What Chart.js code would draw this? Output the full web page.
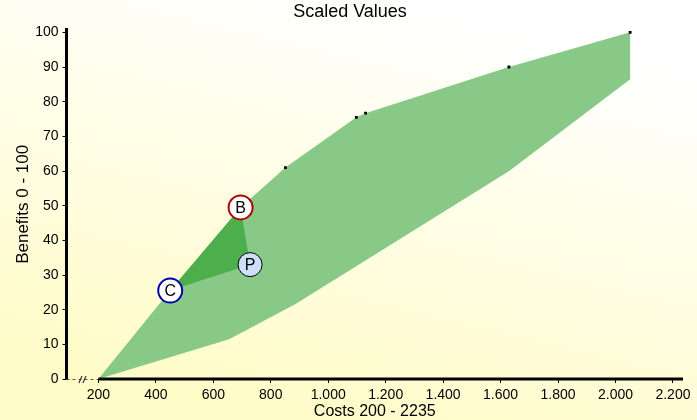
<!DOCTYPE html>
<html>
<head>
<meta charset="utf-8">
<script src="https://cdn.jsdelivr.net/npm/chart.js@4/dist/chart.umd.min.js"></script>
<style>
  html, body { margin: 0; padding: 0; background: #fff; }
  #wrap { width: 697px; height: 420px; }
</style>
</head>
<body>
<div id="wrap"><canvas id="chart" width="697" height="420"></canvas></div>
<script>
// outline of the cost/benefit area, upper edge then lower edge
const upperX = [200, 450, 695, 851, 1098, 1130, 1629, 2051];
const upperY = [0, 25.5, 49.5, 61, 75.5, 76.7, 90, 100];
const lowerX = [2051, 1630, 885, 655, 200];
const lowerY = [86.5, 60, 21.6, 11.5, 0];

// small black markers on the upper edge
const markX = [851, 1098, 1130, 1629, 2051];
const markY = [61, 75.5, 76.7, 90, 100];

// labelled points
const pointNames = ["C", "B", "P"];
const pointX = [450, 695, 728];
const pointY = [25.5, 49.5, 33];

const xTicks = [200, 400, 600, 800, 1000, 1200, 1400, 1600, 1800, 2000, 2200];
const yTicks = [0, 10, 20, 30, 40, 50, 60, 70, 80, 90, 100];

const font = "'Liberation Sans', Arial, sans-serif";

const outline = upperX.map((x, i) => ({ x, y: upperY[i] }))
  .concat(lowerX.map((x, i) => ({ x, y: lowerY[i] })));
const triangle = [0, 1, 2, 0].map((i) => ({ x: pointX[i], y: pointY[i] }));

const background = {
  id: "background",
  beforeDraw(chart) {
    const c = chart.ctx;
    const g = c.createLinearGradient(400, 0, 300, chart.height);
    g.addColorStop(0, "#ffffff");
    g.addColorStop(1, "#fffcc8");
    c.save();
    c.fillStyle = g;
    c.fillRect(0, 0, chart.width, chart.height);
    c.restore();
  },
};

// x axis: dashed before the break, solid from 200 on; letters in the circles
const extras = {
  id: "extras",
  afterDraw(chart) {
    const c = chart.ctx;
    const xs = chart.scales.x;
    const y = chart.scales.y.getPixelForValue(0);
    const x200 = xs.getPixelForValue(200);
    c.save();
    c.strokeStyle = "#555";
    c.lineWidth = 1;
    c.setLineDash([3, 3]);
    c.beginPath();
    c.moveTo(xs.left, y + 0.5);
    c.lineTo(x200, y + 0.5);
    c.stroke();
    c.restore();

    c.save();
    c.strokeStyle = "#000";
    c.lineWidth = 3;
    c.beginPath();
    c.moveTo(x200, y);
    c.lineTo(xs.right, y);
    c.stroke();
    c.restore();

    // break mark
    c.save();
    c.lineWidth = 1.2;
    c.strokeStyle = "#333";
    const bx = (xs.left + x200) / 2;
    [-2, 2].forEach((d) => {
      c.beginPath();
      c.moveTo(bx + d - 1.5, y + 4);
      c.lineTo(bx + d + 1.5, y - 3);
      c.stroke();
    });
    c.restore();

    const meta = chart.getDatasetMeta(3);
    c.save();
    c.font = "16px " + font;
    c.fillStyle = "#000";
    c.textAlign = "center";
    c.textBaseline = "middle";
    meta.data.forEach((pt, i) => {
      c.fillText(pointNames[i], pt.x, pt.y + 1);
    });
    c.restore();
  },
};

new Chart(document.getElementById("chart"), {
  type: "scatter",
  data: {
    datasets: [
      {
        data: outline,
        order: 4,
        showLine: true,
        fill: "shape",
        backgroundColor: "#88c988",
        borderWidth: 0,
        pointRadius: 0,
        tension: 0,
      },
      {
        data: triangle,
        order: 3,
        showLine: true,
        fill: "shape",
        backgroundColor: "#4caf4c",
        borderWidth: 0,
        pointRadius: 0,
        tension: 0,
      },
      {
        data: markX.map((x, i) => ({ x, y: markY[i] })),
        order: 2,
        pointStyle: "rect",
        pointRadius: 2,
        borderWidth: 0,
        backgroundColor: "#000",
      },
      {
        data: pointX.map((x, i) => ({ x, y: pointY[i] })),
        order: 1,
        pointRadius: 12,
        pointBorderWidth: [2, 2, 1],
        pointBorderColor: ["#0000a8", "#b00000", "#000000"],
        pointBackgroundColor: ["#ffffff", "#ffffff", "#cde0f7"],
      },
    ],
  },
  options: {
    responsive: false,
    animation: false,
    events: [],
    layout: { padding: { left: 15, right: 12, top: 0, bottom: 5 } },
    plugins: {
      legend: { display: false },
      tooltip: { enabled: false },
      title: {
        display: true,
        text: "Scaled Values",
        color: "#000",
        font: { family: font, size: 18, weight: "normal" },
        padding: { top: 1, bottom: 7 },
      },
    },
    scales: {
      x: {
        type: "linear",
        min: 89,
        max: 2235,
        afterBuildTicks: (s) => { s.ticks = xTicks.map((v) => ({ value: v })); },
        border: { display: false },
        grid: { drawOnChartArea: false, drawTicks: true, tickLength: 4, tickColor: "#000" },
        ticks: {
          color: "#000",
          padding: 4,
          maxRotation: 0,
          autoSkip: false,
          font: { family: font, size: 14 },
          callback: (v) => String(v).replace(/\B(?=(\d{3})+(?!\d))/g, "."),
        },
        title: {
          display: true,
          text: "Costs 200 - 2235",
          color: "#000",
          font: { family: font, size: 16, lineHeight: 0.45 },
          padding: { top: 0, bottom: 0 },
        },
      },
      y: {
        type: "linear",
        min: 0,
        max: 100.8,
        afterBuildTicks: (s) => { s.ticks = yTicks.map((v) => ({ value: v })); },
        border: { display: true, color: "#000", width: 3 },
        grid: { drawOnChartArea: false, drawTicks: true, tickLength: 4, tickColor: "#000" },
        ticks: {
          color: "#000",
          padding: 4,
          font: { family: font, size: 14 },
        },
        title: {
          display: true,
          text: "Benefits 0 - 100",
          color: "#000",
          font: { family: font, size: 17, lineHeight: 0.95 },
          padding: { top: 0, bottom: 0 },
        },
      },
    },
  },
  plugins: [background, extras],
});
</script>
</body>
</html>
